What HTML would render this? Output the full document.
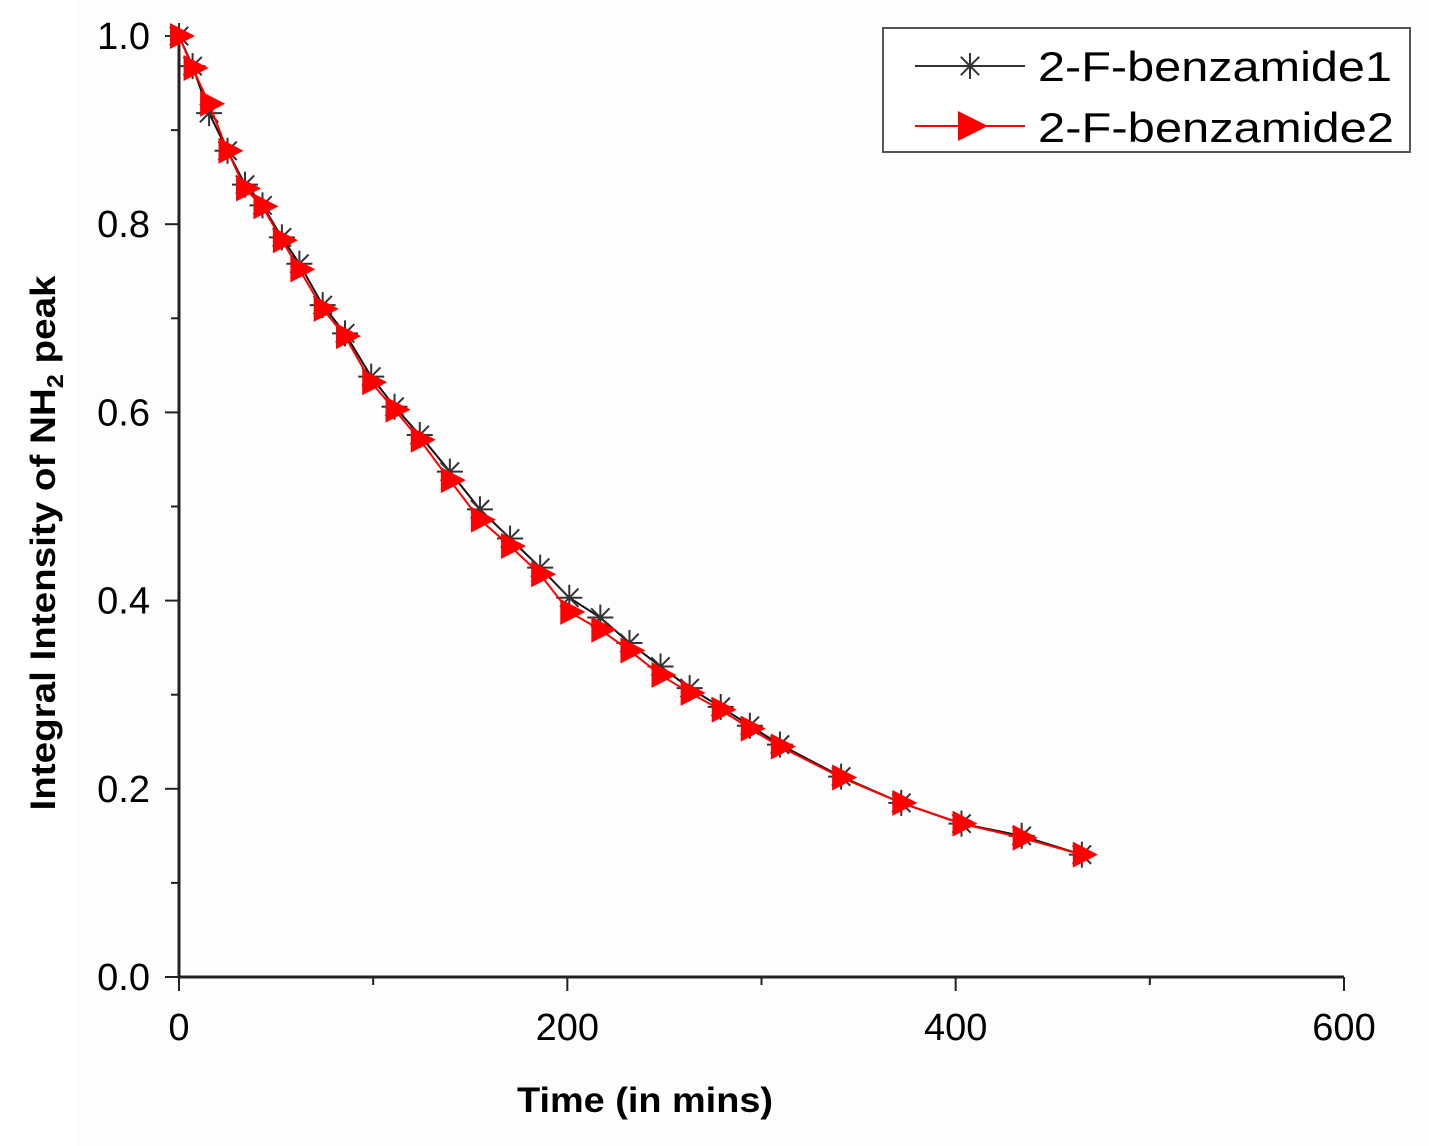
<!DOCTYPE html>
<html><head><meta charset="utf-8"><style>
body{margin:0;background:#fff;}
svg{display:block;font-family:"Liberation Sans",sans-serif;}
</style></head><body>
<svg id="chart" width="1429" height="1146">
<rect x="75" y="0" width="1354" height="1146" fill="#fdfdfd"/>
<g id="axes"></g>
<g id="series"></g>
<text x="0" y="0" transform="translate(55,543) rotate(-90)" text-anchor="middle" font-size="35" font-weight="bold" textLength="535" lengthAdjust="spacingAndGlyphs">Integral Intensity of NH<tspan font-size="23" dy="8">2</tspan><tspan dy="-8"> peak</tspan></text>
<text x="645" y="1112" text-anchor="middle" font-size="35" font-weight="bold" textLength="256" lengthAdjust="spacingAndGlyphs">Time (in mins)</text>
<g>
<rect x="883" y="28" width="527" height="124" fill="#fff" stroke="#555" stroke-width="2"/>
<g>
<line x1="915" y1="66" x2="1025" y2="66" stroke="#333" stroke-width="2"/>
<g id="legstar"></g>
<text x="1038" y="81" font-size="42" textLength="354" lengthAdjust="spacingAndGlyphs">2-F-benzamide1</text></g>
<g>
<line x1="915" y1="126" x2="1025" y2="126" stroke="#f00" stroke-width="2"/>
<polygon points="958,111 988,126 958,141" fill="#f00"/>
<text x="1038" y="142" font-size="42" textLength="356" lengthAdjust="spacingAndGlyphs">2-F-benzamide2</text></g>
</g>
</svg>
<script>
const timeValues=[0,7,15.5,25,34,43,53,62,74,85.5,99,111,124,139.5,155,170.5,186,201,217,232,248,263,279,294,309.5,341,372,403,434,465];
const series1=[1.0,0.968,0.918,0.878,0.842,0.82,0.786,0.758,0.714,0.684,0.638,0.606,0.576,0.537,0.497,0.466,0.435,0.403,0.382,0.355,0.33,0.307,0.287,0.267,0.247,0.213,0.185,0.163,0.15,0.13];
const series2=[1.0,0.966,0.928,0.878,0.838,0.819,0.783,0.752,0.71,0.681,0.632,0.603,0.571,0.528,0.486,0.458,0.428,0.388,0.369,0.347,0.321,0.302,0.284,0.264,0.245,0.212,0.185,0.163,0.148,0.13];
const xTicks=[0,200,400,600];
const yTicks=[0,0.2,0.4,0.6,0.8,1.0];
const yTickLabels=["0.0","0.2","0.4","0.6","0.8","1.0"];
const NS="http://www.w3.org/2000/svg";
const X=v=>179+v*(1344-179)/600;
const Y=v=>977-v*941;
function mk(tag,attrs,parent){const e=document.createElementNS(NS,tag);for(const k in attrs)e.setAttribute(k,attrs[k]);parent.appendChild(e);return e;}
const ax=document.getElementById('axes');
let e=mk('line',{x1:179,y1:977,x2:1344,y2:977,stroke:'#222','stroke-width':3},ax);


e=mk('line',{x1:179,y1:30,x2:179,y2:977,stroke:'#222','stroke-width':3},ax);


for(let v=0;v<=600;v+=100){const major=v%200===0;mk('line',{x1:X(v),y1:977,x2:X(v),y2:977+(major?14:8),stroke:'#222','stroke-width':2},ax);}
xTicks.forEach(v=>{const t=mk('text',{x:X(v),y:1040,'text-anchor':'middle','font-size':38},ax);t.textContent=String(v);

});
for(let i=0;i<=10;i++){const v=i/10;const major=i%2===0;mk('line',{x1:179,x2:179-(major?14:8),y1:Y(v),y2:Y(v),stroke:'#222','stroke-width':2},ax);}
yTicks.forEach((v,i)=>{const t=mk('text',{x:150,y:Y(v)+13,'text-anchor':'end','font-size':38},ax);t.textContent=yTickLabels[i];

});
const sg=document.getElementById('series');
function star(g,cx,cy,r){for(let a=0;a<180;a+=45){const rad=a*Math.PI/180;mk('line',{x1:cx-r*Math.cos(rad),y1:cy-r*Math.sin(rad),x2:cx+r*Math.cos(rad),y2:cy+r*Math.sin(rad),stroke:'#333','stroke-width':2},g);}}
const g1=mk('g',{},sg);


mk('polyline',{points:timeValues.map((t,i)=>X(t)+','+Y(series1[i])).join(' '),fill:'none',stroke:'#111','stroke-width':2},g1);
timeValues.forEach((t,i)=>star(g1,X(t),Y(series1[i]),13));
const g2=mk('g',{},sg);


mk('polyline',{points:timeValues.map((t,i)=>X(t)+','+Y(series2[i])).join(' '),fill:'none',stroke:'#f00','stroke-width':2},g2);
timeValues.forEach((t,i)=>{const cx=X(t),cy=Y(series2[i]);const p=mk('polygon',{points:`${cx-9},${cy-13} ${cx+16},${cy} ${cx-9},${cy+13}`,fill:'#f00'},g2);

});
star(document.getElementById('legstar'),970,66,13);
</script>
</body></html>
